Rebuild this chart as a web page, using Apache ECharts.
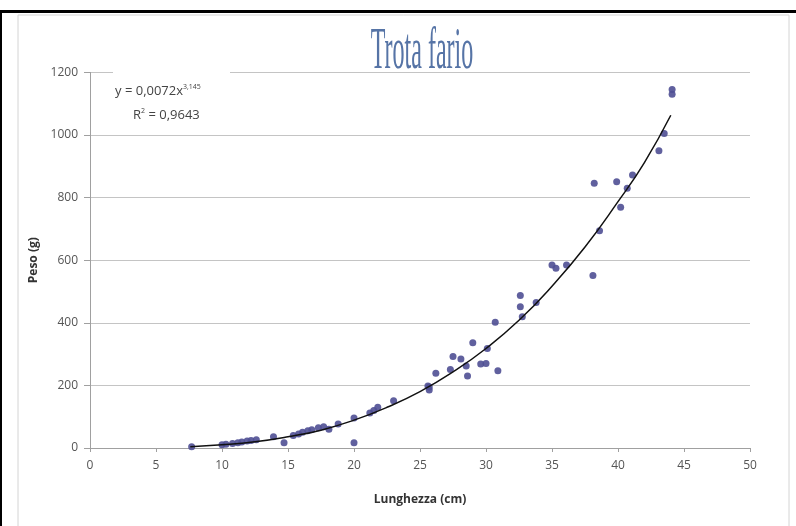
<!DOCTYPE html>
<html><head><meta charset="utf-8">
<script src="https://cdn.jsdelivr.net/npm/echarts@6/dist/echarts.min.js"></script>
<style>html,body{margin:0;padding:0;background:#fff}#c{width:796px;height:526px}</style>
</head><body><div id="c"></div>
<script>
// Scatter data: lunghezza (cm), peso (g)
const lengthCm = [7.7,10.0,10.3,10.8,11.2,11.5,11.9,12.2,12.6,13.9,14.7,15.4,15.8,16.1,16.5,16.8,17.3,17.7,18.1,18.8,20.0,20.0,21.2,21.5,21.8,23.0,25.6,25.7,25.7,26.2,27.3,27.5,28.1,28.5,28.6,29.0,29.6,30.0,30.1,30.7,30.9,32.6,32.6,32.75,33.8,35.0,35.3,36.1,38.1,38.2,38.6,39.9,40.2,40.7,41.1,43.1,43.5,44.1,44.1];
const weightG  = [4,10,12,14,17,19,22,24,26,36,17,40,45,50,55,58,65,68,60,77,96,17,112,120,130,151,198,195,185,239,251,292,284,262,230,336,268,270,318,402,247,487,451,419,465,585,574,585,551,846,694,851,769,830,872,950,1005,1130,1145];
// Trendline (power fit)
const trendX = [7.6,10,12.5,15,17.5,20,22.5,25,27.5,30,32.5,35,37.5,40,42,44];
const trendY = [4,10,20,36,57,89,130,180,243,318,408,517,642,787,912,1063];
// Tick labels
const xTicks = [0,5,10,15,20,25,30,35,40,45,50];
const yTicks = [0,200,400,600,800,1000,1200];

const chart = echarts.init(document.getElementById('c'));
const labelFont = "'Open Sans', 'Liberation Sans', sans-serif";
chart.setOption({
  animation:false,
  backgroundColor:'#fff',
  graphic:[
    {type:'rect',shape:{x:18,y:15,width:771,height:520},style:{fill:'none',stroke:'#d4d4d4',lineWidth:1},z:-1},
    {type:'rect',shape:{x:0,y:10,width:796,height:3},style:{fill:'#000'}},
    {type:'rect',shape:{x:0,y:10,width:2,height:516},style:{fill:'#000'}},
    {type:'text',x:422,y:82,scaleX:0.4,originX:0,originY:0,
     style:{text:'Trota fario',font:"60px 'Liberation Serif', serif",fill:'#5674a6',textAlign:'center',textVerticalAlign:'bottom'}},
    {type:'rect',shape:{x:113,y:69,width:117,height:7},style:{fill:'#fff'},z:5},
    {type:'text',x:115,y:83,z:10,
     style:{rich:{n:{fontFamily:labelFont,fontSize:13,fill:'#444'},s:{fontFamily:labelFont,fontSize:7,fill:'#444',verticalAlign:'top',padding:[0,0,10,0]}},
       text:'{n|y = 0,0072x}{s|3,145}'}},
    {type:'text',x:133,y:107,z:10,
     style:{rich:{n:{fontFamily:labelFont,fontSize:13,fill:'#444'},s:{fontFamily:labelFont,fontSize:7,fill:'#444',padding:[0,0,10,0]}},
       text:'{n|R}{s|2}{n| = 0,9643}'}}
  ],
  grid:{left:90,right:46,top:72.4,bottom:78},
  xAxis:{type:'value',min:0,max:50,interval:5,
    name:'Lunghezza (cm)',nameLocation:'middle',nameGap:46,
    nameTextStyle:{fontFamily:labelFont,fontWeight:'bold',fontSize:12,color:'#333'},
    axisLine:{show:true,lineStyle:{color:'#a0a0a0'}},
    axisTick:{show:true,length:4,lineStyle:{color:'#a0a0a0'}},
    axisLabel:{fontFamily:labelFont,fontSize:12,color:'#555',margin:12,
      formatter:v=>xTicks.includes(v)?String(v):''},
    splitLine:{show:false}},
  yAxis:{type:'value',min:0,max:1200,interval:200,
    name:'Peso (g)',nameLocation:'middle',nameGap:50,nameRotate:90,
    nameTextStyle:{fontFamily:labelFont,fontWeight:'bold',fontSize:12,color:'#333'},
    axisLine:{show:true,lineStyle:{color:'#a0a0a0'}},
    axisTick:{show:true,length:6,lineStyle:{color:'#a0a0a0'}},
    axisLabel:{fontFamily:labelFont,fontSize:12,color:'#555',margin:12,
      formatter:v=>yTicks.includes(v)?String(v):''},
    splitLine:{show:true,lineStyle:{color:'#c4c4c4'}}},
  series:[
    {type:'scatter',data:lengthCm.map((x,i)=>[x,weightG[i]]),symbolSize:7,
     itemStyle:{color:'#4f4f94',opacity:0.9},z:3},
    {type:'line',data:trendX.map((x,i)=>[x,trendY[i]]),smooth:true,showSymbol:false,
     lineStyle:{color:'#111',width:1.5},z:4}
  ]
});
</script></body></html>
